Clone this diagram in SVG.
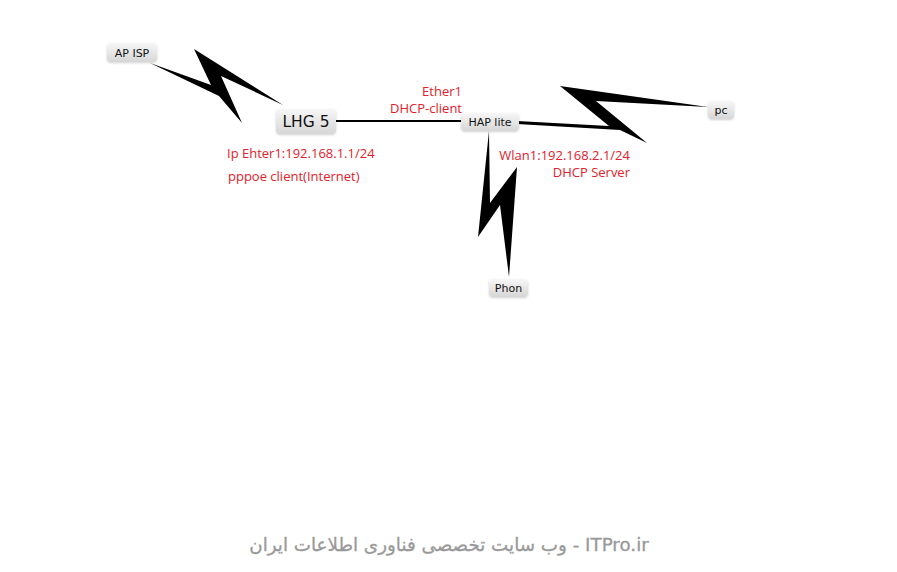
<svg xmlns="http://www.w3.org/2000/svg" width="897" height="572" viewBox="0 0 897 572">
<defs>
<linearGradient id="nodeGrad" x1="0" y1="0" x2="0" y2="1">
<stop offset="0" stop-color="#f7f7f7"/>
<stop offset="1" stop-color="#d6d6d6"/>
</linearGradient>
<filter id="sh" x="-20%" y="-20%" width="140%" height="150%">
<feDropShadow dx="0" dy="1" stdDeviation="0.8" flood-color="#000" flood-opacity="0.18"/>
</filter>
</defs>
<style>
.box{fill:url(#nodeGrad);filter:url(#sh)}
.nt{font-family:"DejaVu Sans",sans-serif;fill:#111;text-anchor:middle}
.lbl{font-family:"Open Sans","Noto Sans",sans-serif;font-size:13px;fill:#e3212b}
.bolt{fill:#000}
.wire{stroke:#000;stroke-width:2;fill:none}
.wm{font-family:"DejaVu Sans",sans-serif;font-size:18.3px;fill:#999;stroke:#999;stroke-width:0.3}
</style>
<rect width="897" height="572" fill="#fff"/>
<g id="connectors">
<line class="wire" x1="336" y1="121" x2="461" y2="121"/>
<polygon class="bolt" points="150,63 211,85 194,49 283,105 221,76 242,123 219,96"/>
<polygon class="bolt" points="517,121 609,126 560,86 708,107 596,101 647,143 620,130 517,124"/>
<polygon class="bolt" points="489,131 490,203 517,167 509,277 500,205 478,237"/>
</g>
<g id="node-apisp">
<rect class="box" x="107" y="43" width="50" height="19" rx="4"/>
<text class="nt" x="132" y="57" font-size="11">AP ISP</text>
</g>
<g id="node-lhg5">
<rect class="box" x="276" y="109" width="60" height="25" rx="4"/>
<text class="nt" x="306" y="127" font-size="15.5">LHG 5</text>
</g>
<g id="node-haplite">
<rect class="box" x="461" y="113" width="58" height="18" rx="4"/>
<text class="nt" x="490" y="126" font-size="11">HAP lite</text>
</g>
<g id="node-pc">
<rect class="box" x="708" y="101" width="26" height="18" rx="4"/>
<text class="nt" x="721" y="114" font-size="11">pc</text>
</g>
<g id="node-phon">
<rect class="box" x="489" y="279" width="39" height="18" rx="4"/>
<text class="nt" x="508.5" y="292" font-size="11">Phon</text>
</g>
<g id="labels">
<text class="lbl" x="462" y="96" text-anchor="end">Ether1</text>
<text class="lbl" x="462" y="113" text-anchor="end">DHCP-client</text>
<text class="lbl" x="227" y="158">Ip Ehter1:192.168.1.1/24</text>
<text class="lbl" x="228" y="181">pppoe client(Internet)</text>
<text class="lbl" x="630" y="160" text-anchor="end">Wlan1:192.168.2.1/24</text>
<text class="lbl" x="630" y="177" text-anchor="end">DHCP Server</text>
</g>
<text class="wm" x="449" y="551" text-anchor="middle">وب سایت تخصصی فناوری اطلاعات ایران - ITPro.ir</text>
</svg>
